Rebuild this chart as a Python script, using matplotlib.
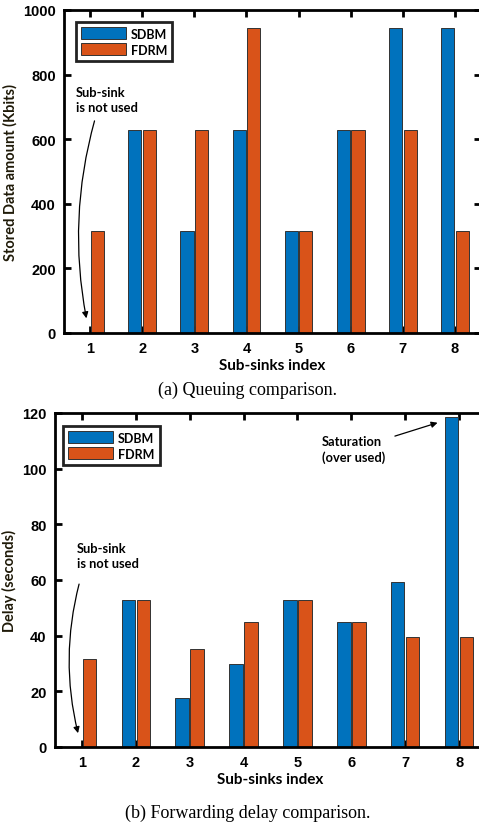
import numpy as np
import matplotlib.pyplot as plt

plt.rcParams['font.family'] = ['Liberation Sans', 'DejaVu Sans']

# sub-sink indices and results for the two schemes
sinks = [1, 2, 3, 4, 5, 6, 7, 8]
stored_sdbm = [0, 630, 315, 630, 315, 630, 945, 945]
stored_fdrm = [315, 630, 630, 945, 315, 630, 630, 315]
delay_sdbm = [0, 52.7, 17.5, 30.0, 52.7, 45.0, 59.2, 118.5]
delay_fdrm = [31.7, 52.7, 35.1, 45.0, 52.7, 45.0, 39.4, 39.4]
yticks_a = [0, 200, 400, 600, 800, 1000]
yticks_b = [0, 20, 40, 60, 80, 100, 120]

BLUE = '#0072BD'
ORANGE = '#D95319'
LBL = '#1f1a08'
W, H = 479, 829

fig = plt.figure(figsize=(W / 100, H / 100), dpi=100)


def box(l, t, r, b):
    return [l / W, 1 - b / H, (r - l) / W, (b - t) / H]


def draw(ax, a, b, yticks, ylabel, leg_x, leg_y):
    x = np.array(sinks)
    ax.bar(x - 0.14, a, width=0.25, color=BLUE, edgecolor='#333333', linewidth=0.7, label='SDBM', zorder=2)
    ax.bar(x + 0.14, b, width=0.25, color=ORANGE, edgecolor='#333333', linewidth=0.7, label='FDRM', zorder=2)
    ax.set_xlim(0.5, 8.5)
    ax.set_ylim(yticks[0], yticks[-1])
    ax.set_xticks(sinks)
    ax.set_yticks(yticks)
    ax.tick_params(direction='in', length=5, width=2, top=True, right=True,
                   labelsize=10.5, pad=6)
    for lab in ax.get_xticklabels() + ax.get_yticklabels():
        lab.set_fontweight('bold')
    for s in ax.spines.values():
        s.set_linewidth(2)
    ax.set_xlabel('Sub-sinks index', family='Lato', fontweight='bold', fontsize=11, labelpad=2)
    ax.set_ylabel(ylabel, family='Lato', fontweight='bold', fontsize=10.5, color=LBL, labelpad=4)
    leg = ax.legend(loc='upper left', bbox_to_anchor=(leg_x, leg_y), fancybox=False,
                    edgecolor='#222222', framealpha=1, prop={'family': 'Lato', 'weight': 'bold', 'size': 9},
                    handlelength=3.6, handleheight=1.1, handletextpad=0.4, borderpad=0.4,
                    labelspacing=0.3, borderaxespad=0)
    leg.get_frame().set_linewidth(2)
    return ax


note = dict(family='Lato', fontweight='bold', fontsize=9.3, linespacing=1.3)
arrow = dict(arrowstyle='-|>', color='black', lw=0.9, mutation_scale=9)

# (a) stored data
ax1 = fig.add_axes(box(64, 11, 481, 334))
draw(ax1, stored_sdbm, stored_fdrm, yticks_a, 'Stored Data amount (Kbits)', 0.029, 0.962)
ax1.text(0.73, 765, 'Sub-sink\nis not used', va='top', ha='left', **note)
ax1.annotate('', xy=(0.94, 37), xytext=(1.1, 665),
             arrowprops=dict(connectionstyle='arc3,rad=0.12', **arrow))
fig.text(248 / W, 1 - 395 / H, '(a) Queuing comparison.', ha='center', va='baseline',
         family='Liberation Serif', fontsize=13)

# (b) forwarding delay
ax2 = fig.add_axes(box(55, 414, 486, 748))
draw(ax2, delay_sdbm, delay_fdrm, yticks_b, 'Delay (seconds)', 0.019, 0.96)
ax2.text(0.91, 73.5, 'Sub-sink\nis not used', va='top', ha='left', **note)
ax2.annotate('', xy=(0.94, 4), xytext=(0.96, 59.5),
             arrowprops=dict(connectionstyle='arc3,rad=0.13', **arrow))
ax2.text(5.46, 112, 'Saturation\n(over used)', va='top', ha='left', **note)
ax2.annotate('', xy=(7.65, 116.8), xytext=(6.76, 111.4), arrowprops=arrow)
fig.text(248 / W, 1 - 818 / H, '(b) Forwarding delay comparison.', ha='center', va='baseline',
         family='Liberation Serif', fontsize=13)

fig.savefig('out.png', dpi=100)
